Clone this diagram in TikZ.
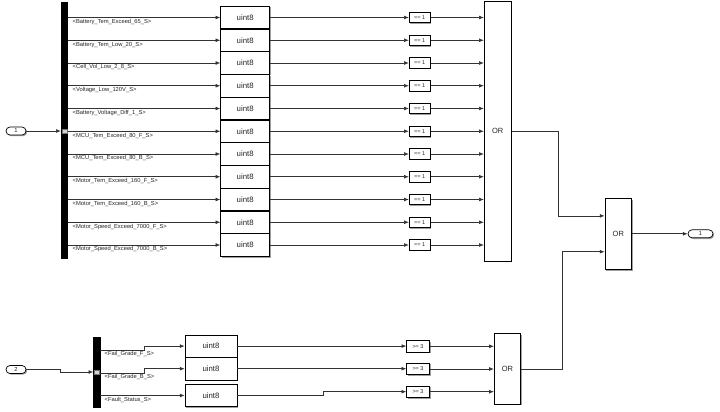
\documentclass[tikz,border=0pt]{standalone}
\usepackage{fontspec}
\setmainfont{Liberation Sans}
\usepackage{xcolor}
\definecolor{wireGray}{HTML}{333333}
\definecolor{portGray}{HTML}{D4D4D4}
\definecolor{shadowGray}{HTML}{A0A0A0}
\usetikzlibrary{arrows.meta,positioning,calc,shadows}

\begin{document}
\begin{tikzpicture}[x=1pt,y=-1pt,>={Latex[length=4.8pt,width=3.8pt]},
  blk/.style={draw=black,fill=white,line width=0.7pt,inner sep=0pt,text=black!85,
    drop shadow={shadow xshift=1.2pt,shadow yshift=-1.2pt,fill=shadowGray,opacity=1}},
  cast/.style={blk,minimum width=49pt,minimum height=22.6pt,font=\fontsize{7.8}{8}\selectfont},
  cmp/.style={blk,minimum width=21pt,minimum height=10.5pt,font=\fontsize{5.5}{6}\selectfont},
  orblk/.style={blk,minimum width=27pt,font=\fontsize{7.5}{8}\selectfont},
  iport/.style={blk,rounded corners=4pt,minimum width=20pt,minimum height=8pt,font=\fontsize{5.8}{6}\selectfont},
  busbar/.style={fill=black,draw=black,inner sep=0pt,minimum width=6.5pt},
  busport/.style={fill=portGray,draw=black!55,line width=0.4pt,inner sep=0pt,minimum width=5pt,minimum height=4pt},
  sig/.style={inner sep=0pt,anchor=west,text=black!85,font=\fontsize{5.8}{6}\selectfont},
  wire/.style={draw=wireGray,line width=0.65pt}]
  \useasboundingbox (0,0) rectangle (720,412);

  % top bus and its inputs
  \node[busbar,minimum height=256pt] (bus1) at (64.3,130) {};
  \node[iport] (in1) at (16,131) {1};
  \node[busport] (bp1) at (bus1 |- in1) {};
  \draw[wire,->] (in1.east) -- (in1.east -| bus1.west);
  \node[orblk,minimum height=260pt] (or1) at (497.7,131) {OR};

  \foreach \lbl [count=\i from 0] in {Battery\_Tem\_Exceed\_65\_S,Battery\_Tem\_Low\_20\_S,
      Cell\_Vol\_Low\_2\_8\_S,Voltage\_Low\_120V\_S,Battery\_Voltage\_Diff\_1\_S,
      MCU\_Tem\_Exceed\_80\_F\_S,MCU\_Tem\_Exceed\_80\_B\_S,Motor\_Tem\_Exceed\_160\_F\_S,
      Motor\_Tem\_Exceed\_160\_B\_S,Motor\_Speed\_Exceed\_7000\_F\_S,Motor\_Speed\_Exceed\_7000\_B\_S}{
    \pgfmathsetmacro{\y}{17.5+22.75*\i}
    \node[cast] (cv\i) at (245.2,\y) {uint8};
    \node[cmp] (eq\i) at (419.7,\y) {== 1};
    \node[sig] (lbl\i) at (72.5,\y+4.4) {<\lbl>};
    \draw[wire,->] (bus1.east |- cv\i.west) -- (cv\i.west);
    \draw[wire,->] (cv\i.east) -- (eq\i.west);
    \draw[wire,->] (eq\i.east) -- (eq\i.east -| or1.west);
  }

  % second OR and the outport
  \node[orblk,minimum width=26.7pt,minimum height=71pt] (or2) at (618.3,233.8) {OR};
  \coordinate (or2in1) at ($(or2.north west)!0.25!(or2.south west)$);
  \coordinate (or2in2) at ($(or2.north west)!0.75!(or2.south west)$);
  \node[iport,minimum width=25pt] (out1) at (700.5,233.8) {1};
  \draw[wire,->] (or1.east) -- ++(47,0) |- (or2in1);
  \draw[wire,->] (or2.east) -- (out1.west);

  % bottom bus
  \node[busbar,minimum height=70.6pt] (bus2) at (96.8,372) {};
  \node[iport] (in2) at (16,369.5) {2};
  \node[busport] (bp2) at (bus2) {};
  \draw[wire,->] (in2.east) -- ++(34,0) |- (bus2.west);

  \node[cast,minimum width=52pt,minimum height=22.4pt] (cb1) at (211,346.1) {uint8};
  \node[cast,minimum width=52pt,minimum height=22.4pt] (cb2) at (211,368.7) {uint8};
  \node[cast,minimum width=52pt,minimum height=22.4pt] (cb3) at (211,395.5) {uint8};
  \node[sig] (lblb1) at (104.5,354.3) {<Fail\_Grade\_F\_S>};
  \node[sig] (lblb2) at (104.5,377) {<Fail\_Grade\_B\_S>};
  \node[sig] (lblb3) at (104.5,399.8) {<Fault\_Status\_S>};
  \draw[wire,->] (bus2.east |- 0,350.7) -- (144.3,350.7) |- (cb1.west);
  \draw[wire,->] (bus2.east |- 0,373.3) -- (144.3,373.3) |- (cb2.west);
  \draw[wire,->] (bus2.east |- cb3.west) -- (cb3.west);

  \node[cmp,minimum width=22.6pt,minimum height=11.5pt] (ge1) at (418,346.3) {>= 3};
  \node[cmp,minimum width=22.6pt,minimum height=11.5pt] (ge2) at (418,369) {>= 3};
  \node[cmp,minimum width=22.6pt,minimum height=11.5pt] (ge3) at (418,391.7) {>= 3};
  \draw[wire,->] (cb1.east) -- (cb1.east -| ge1.west);
  \draw[wire,->] (cb2.east) -- (cb2.east -| ge2.west);
  \draw[wire,->] (cb3.east) -- (323.3,395.5) |- (ge3.west);

  \node[orblk,minimum width=26.4pt,minimum height=70.3pt] (or3) at (507.5,368.9) {OR};
  \draw[wire,->] (ge1.east) -- (ge1.east -| or3.west);
  \draw[wire,->] (ge2.east) -- (ge2.east -| or3.west);
  \draw[wire,->] (ge3.east) -- (ge3.east -| or3.west);
  \draw[wire,->] (or3.east) -- ++(41.6,0) |- (or2in2);
\end{tikzpicture}
\end{document}
